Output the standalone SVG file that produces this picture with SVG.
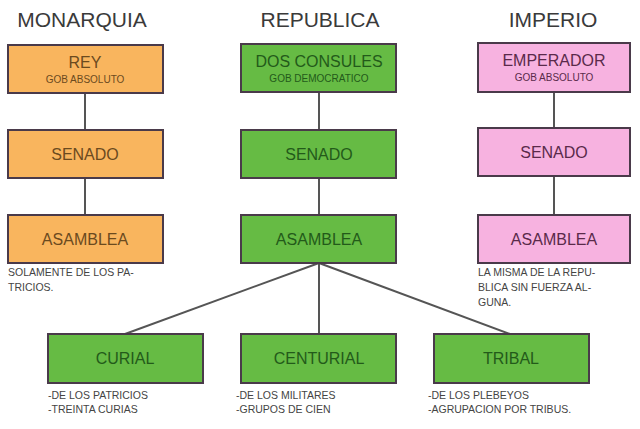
<svg xmlns="http://www.w3.org/2000/svg" width="640" height="429" viewBox="0 0 640 429">
<style>
text{font-family:"Liberation Sans",Arial,sans-serif;}
.h{font-size:21px;fill:#3a3a3a;text-anchor:middle}
.b{stroke:#4a3a4a;stroke-width:2}
.o{fill:#f9b55e}.g{fill:#66bb44}.p{fill:#f7b2e0}
.t{font-size:16px;text-anchor:middle}
.s{font-size:10px;text-anchor:middle}
.to{fill:#6b4a1e}.tg{fill:#235a1a}.tp{fill:#5a2a4a}
.n{font-size:10.5px;fill:#444}
.c line{stroke:#555;stroke-width:2}
</style>
<rect width="640" height="429" fill="#fff"/>
<text class="h" x="82" y="27">MONARQUIA</text>
<text class="h" x="320" y="27">REPUBLICA</text>
<text class="h" x="553" y="27">IMPERIO</text>
<g class="c">
<line x1="85" y1="93" x2="85" y2="130"/><line x1="85" y1="178" x2="85" y2="215"/>
<line x1="319" y1="92" x2="319" y2="130"/><line x1="319" y1="178" x2="319" y2="215"/>
<line x1="554" y1="92" x2="554" y2="128"/><line x1="554" y1="176" x2="554" y2="215"/>
<line x1="319" y1="263" x2="125" y2="334"/><line x1="319" y1="263" x2="319" y2="334"/><line x1="319" y1="263" x2="510" y2="334"/>
</g>
<g id="rey"><rect class="b o" x="8" y="45" width="155" height="48"/><text class="t to" x="85" y="68">REY</text><text class="s to" x="85" y="83">GOB ABSOLUTO</text></g>
<g id="senado-m"><rect class="b o" x="8" y="130" width="155" height="48"/><text class="t to" x="85" y="160">SENADO</text></g>
<g id="asamblea-m"><rect class="b o" x="8" y="215" width="155" height="48"/><text class="t to" x="85" y="245">ASAMBLEA</text></g>
<text class="n" x="8" y="276">SOLAMENTE DE LOS PA-</text><text class="n" x="8" y="291">TRICIOS.</text>
<g id="consules"><rect class="b g" x="241" y="44" width="155" height="48"/><text class="t tg" x="319" y="67">DOS CONSULES</text><text class="s tg" x="319" y="82">GOB DEMOCRATICO</text></g>
<g id="senado-r"><rect class="b g" x="241" y="130" width="155" height="48"/><text class="t tg" x="319" y="160">SENADO</text></g>
<g id="asamblea-r"><rect class="b g" x="241" y="215" width="155" height="48"/><text class="t tg" x="319" y="245">ASAMBLEA</text></g>
<g id="emperador"><rect class="b p" x="478" y="43" width="152" height="49"/><text class="t tp" x="554" y="66">EMPERADOR</text><text class="s tp" x="554" y="81">GOB ABSOLUTO</text></g>
<g id="senado-i"><rect class="b p" x="478" y="128" width="152" height="48"/><text class="t tp" x="554" y="158">SENADO</text></g>
<g id="asamblea-i"><rect class="b p" x="478" y="215" width="152" height="48"/><text class="t tp" x="554" y="245">ASAMBLEA</text></g>
<text class="n" x="478" y="276">LA MISMA DE LA REPU-</text><text class="n" x="478" y="291">BLICA SIN FUERZA AL-</text><text class="n" x="478" y="306">GUNA.</text>
<g id="curial"><rect class="b g" x="48" y="334" width="155" height="49"/><text class="t tg" x="125" y="364">CURIAL</text></g>
<g id="centurial"><rect class="b g" x="241" y="334" width="155" height="49"/><text class="t tg" x="319" y="364">CENTURIAL</text></g>
<g id="tribal"><rect class="b g" x="434" y="334" width="155" height="49"/><text class="t tg" x="511" y="364">TRIBAL</text></g>
<text class="n" x="48" y="399">-DE LOS PATRICIOS</text><text class="n" x="48" y="413">-TREINTA CURIAS</text>
<text class="n" x="236" y="399">-DE LOS MILITARES</text><text class="n" x="236" y="413">-GRUPOS DE CIEN</text>
<text class="n" x="428" y="399">-DE LOS PLEBEYOS</text><text class="n" x="428" y="413">-AGRUPACION POR TRIBUS.</text>
</svg>
